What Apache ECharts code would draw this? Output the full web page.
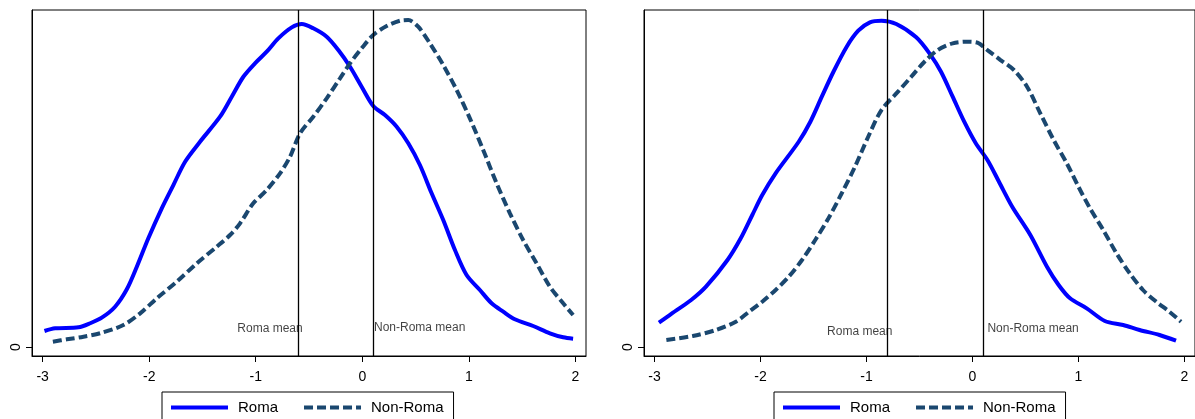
<!DOCTYPE html>
<html>
<head>
<meta charset="utf-8">
<script src="https://cdn.jsdelivr.net/npm/echarts@6/dist/echarts.min.js"></script>
<style>
html,body{margin:0;padding:0;background:#fff;}
#chart{width:1195px;height:419px;}
</style>
</head>
<body>
<div id="chart"></div>
<script>
// ---- Data (kernel density estimates) ----
var seriesNames = ['Roma', 'Non-Roma'];
var xTicks = [-3, -2, -1, 0, 1, 2];
var yTicks = [0];

var leftRoma = [
  [-2.983,0.0246],[-2.883,0.0288],[-2.664,0.0303],[-2.554,0.0365],[-2.445,0.0451],[-2.320,0.0620],
  [-2.210,0.0888],[-2.116,0.1235],[-2.008,0.1672],[-1.882,0.2134],[-1.773,0.2492],[-1.663,0.2851],
  [-1.523,0.3158],[-1.335,0.3543],[-1.225,0.3851],[-1.116,0.4158],[-1.007,0.4365],[-0.897,0.4543],
  [-0.788,0.4749],[-0.662,0.4918],[-0.568,0.4969],[-0.460,0.4903],[-0.334,0.4774],[-0.225,0.4569],
  [-0.115,0.4312],[-0.006,0.4005],[0.103,0.3708],[0.213,0.3569],[0.323,0.3389],[0.432,0.3134],
  [0.541,0.2800],[0.651,0.2365],[0.760,0.1954],[0.870,0.1492],[0.979,0.1108],[1.104,0.0877],
  [1.214,0.0672],[1.323,0.0543],[1.432,0.0426],[1.604,0.0323],[1.761,0.0211],[1.886,0.0149],[1.979,0.0128]
];
var leftNonRoma = [
  [-2.904,0.0082],[-2.773,0.0118],[-2.617,0.0158],[-2.461,0.0211],[-2.242,0.0338],[-2.085,0.0518],
  [-1.929,0.0749],[-1.741,0.1005],[-1.553,0.1288],[-1.366,0.1543],[-1.241,0.1723],[-1.147,0.1903],
  [-1.023,0.2211],[-0.897,0.2415],[-0.772,0.2672],[-0.678,0.2928],[-0.584,0.3288],[-0.460,0.3543],
  [-0.334,0.3826],[-0.209,0.4134],[-0.115,0.4365],[-0.006,0.4595],[0.103,0.4800],[0.229,0.4938],
  [0.354,0.5020],[0.432,0.5031],[0.525,0.4928],[0.635,0.4672],[0.760,0.4338],[0.886,0.3954],
  [1.010,0.3518],[1.135,0.3031],[1.261,0.2518],[1.386,0.2057],[1.510,0.1646],[1.636,0.1288],
  [1.761,0.0928],[1.886,0.0672],[1.979,0.0492]
];
var rightRoma = [
  [-2.959,0.0374],[-2.858,0.0492],[-2.655,0.0723],[-2.515,0.0928],[-2.312,0.1338],[-2.187,0.1672],
  [-2.078,0.2031],[-1.984,0.2338],[-1.858,0.2672],[-1.640,0.3158],[-1.530,0.3466],[-1.422,0.3851],
  [-1.312,0.4235],[-1.187,0.4620],[-1.078,0.4866],[-0.968,0.4995],[-0.859,0.5020],[-0.719,0.4969],
  [-0.531,0.4765],[-0.406,0.4518],[-0.297,0.4235],[-0.187,0.3851],[-0.078,0.3466],[0.031,0.3134],
  [0.141,0.2877],[0.250,0.2543],[0.375,0.2158],[0.546,0.1723],[0.703,0.1235],[0.813,0.0954],
  [0.921,0.0749],[1.078,0.0595],[1.249,0.0400],[1.422,0.0338],[1.577,0.0262],[1.765,0.0185],[1.921,0.0097]
];
var rightNonRoma = [
  [-2.889,0.0108],[-2.640,0.0169],[-2.421,0.0262],[-2.233,0.0389],[-2.109,0.0543],[-1.984,0.0697],
  [-1.858,0.0877],[-1.734,0.1082],[-1.609,0.1338],[-1.484,0.1646],[-1.359,0.1980],[-1.234,0.2365],
  [-1.109,0.2774],[-0.984,0.3235],[-0.859,0.3646],[-0.703,0.3928],[-0.578,0.4158],[-0.453,0.4389],
  [-0.328,0.4569],[-0.187,0.4672],[-0.047,0.4697],[0.047,0.4682],[0.141,0.4569],[0.265,0.4415],
  [0.391,0.4262],[0.515,0.4005],[0.640,0.3595],[0.766,0.3185],[0.890,0.2826],[1.000,0.2466],
  [1.109,0.2134],[1.234,0.1800],[1.359,0.1442],[1.484,0.1134],[1.609,0.0877],[1.734,0.0697],
  [1.858,0.0543],[1.968,0.0389]
];
// group means (vertical reference lines)
var leftMeans = [-0.6, 0.1];
var rightMeans = [-0.8, 0.1];
var meanLabels = ['Roma mean', 'Non-Roma mean'];
// annotation anchors (data coordinates) for the mean labels
var leftLabelAnchors = [[-0.866, 0.0277], [0.11, 0.0297]];
var rightLabelAnchors = [[-1.064, 0.0235], [0.141, 0.0277]];

// ---- Chart ----
var FONT = 'Liberation Sans, Arial, sans-serif';
var BLUE = '#0000ff';
var NAVY = '#1a476f';
var X_MIN = -3.1, X_MAX = 2.1, Y_MIN = -0.01385, Y_MAX = 0.5185;

function xAxisCfg(gi) {
  return {
    type: 'value', gridIndex: gi, min: X_MIN, max: X_MAX,
    axisLine: {show: true, onZero: false, lineStyle: {color: '#000', width: 1}},
    axisTick: {show: true, customValues: xTicks, length: 6, lineStyle: {color: '#000'}},
    axisLabel: {customValues: xTicks, color: '#000', fontSize: 14, fontFamily: FONT, margin: 14},
    splitLine: {show: false}
  };
}
function yAxisCfg(gi) {
  return {
    type: 'value', gridIndex: gi, min: Y_MIN, max: Y_MAX,
    axisLine: {show: true, onZero: false, lineStyle: {color: '#000', width: 1}},
    axisTick: {show: true, customValues: yTicks, length: 6, lineStyle: {color: '#000'}},
    axisLabel: {customValues: yTicks, color: '#000', fontSize: 14, fontFamily: FONT, rotate: 90, margin: 9},
    splitLine: {show: false}
  };
}
function lineSeries(name, data, gi, dashed, means) {
  var s = {
    name: name, type: 'line', xAxisIndex: gi, yAxisIndex: gi, data: data,
    showSymbol: false, symbol: 'none', smooth: 0.3, silent: true, z: 3,
    lineStyle: {color: dashed ? NAVY : BLUE, width: 4, type: dashed ? [9, 4] : 'solid'},
    itemStyle: {color: dashed ? NAVY : BLUE}
  };
  if (means) {
    s.markLine = {
      silent: true, symbol: ['none', 'none'], label: {show: false},
      lineStyle: {color: '#000', width: 1.3, type: 'solid'},
      data: means.map(function (m) { return {xAxis: m}; }), animation: false
    };
  }
  return s;
}
function labelSeries(anchors, gi) {
  return {
    type: 'scatter', xAxisIndex: gi, yAxisIndex: gi, symbolSize: 0, silent: true, z: 4,
    data: anchors.map(function (a, i) {
      return {
        name: meanLabels[i], value: a,
        label: {show: true, formatter: '{b}', position: i === 0 ? 'inside' : 'right', distance: 0,
                color: '#111', fontSize: 12, fontFamily: FONT}
      };
    })
  };
}
function legendCfg(left) {
  return {
    data: [
      {name: seriesNames[0]},
      {name: seriesNames[1]}
    ],
    left: left, top: 392, orient: 'horizontal',
    itemWidth: 57, itemHeight: 14, itemGap: 24,
    padding: [8, 10, 12, 7], borderColor: '#000', borderWidth: 1,
    backgroundColor: '#fff', selectedMode: false,
    itemStyle: {opacity: 0, borderWidth: 0},
    lineStyle: {width: 4, opacity: 1},
    textStyle: {color: '#000', fontSize: 15, fontFamily: FONT, padding: [0, 0, 0, 5]}
  };
}

var chart = echarts.init(document.getElementById('chart'), null, {renderer: 'canvas'});
chart.setOption({
  animation: false,
  backgroundColor: '#fff',
  grid: [
    {left: 32, top: 10, width: 554, height: 346, show: true, borderColor: '#000', borderWidth: 1, backgroundColor: 'transparent'},
    {left: 644, top: 10, width: 555, height: 346, show: true, borderColor: '#000', borderWidth: 1, backgroundColor: 'transparent'}
  ],
  xAxis: [xAxisCfg(0), xAxisCfg(1)],
  yAxis: [yAxisCfg(0), yAxisCfg(1)],
  legend: [legendCfg(162), legendCfg(774)],
  series: [
    lineSeries(seriesNames[0], leftRoma, 0, false, leftMeans),
    lineSeries(seriesNames[1], leftNonRoma, 0, true, null),
    lineSeries(seriesNames[0], rightRoma, 1, false, rightMeans),
    lineSeries(seriesNames[1], rightNonRoma, 1, true, null),
    labelSeries(leftLabelAnchors, 0),
    labelSeries(rightLabelAnchors, 1)
  ]
});
</script>
</body>
</html>
